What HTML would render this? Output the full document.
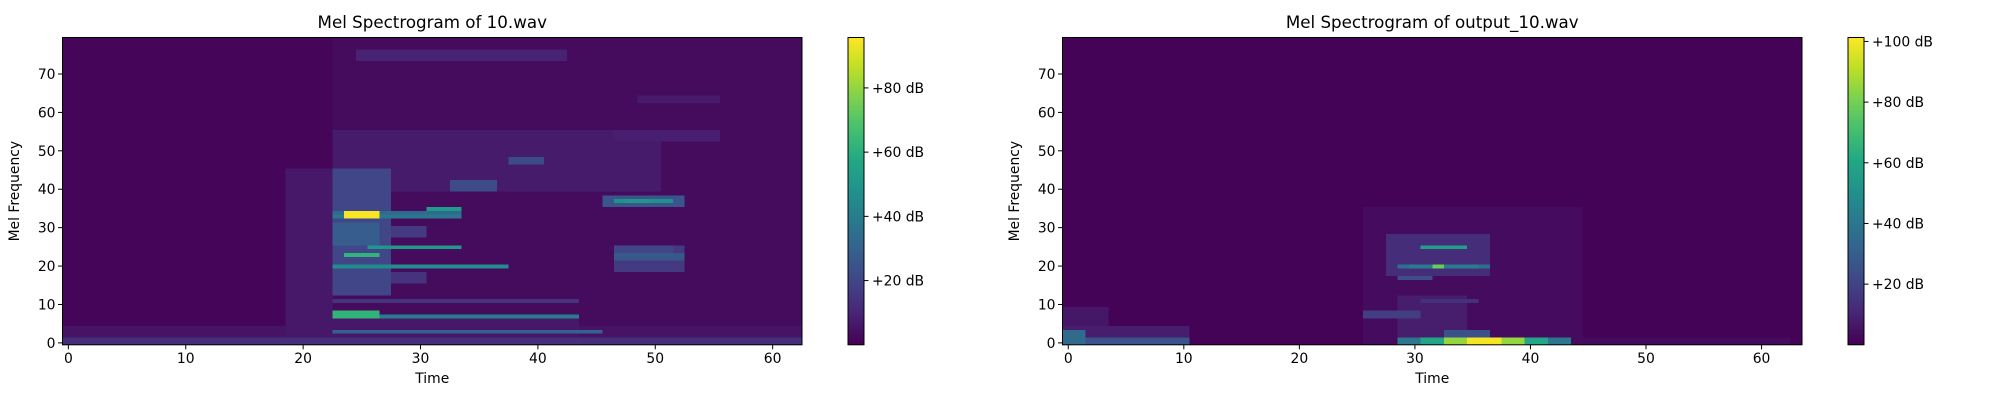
<!DOCTYPE html>
<html><head><meta charset="utf-8">
<style>
html,body{margin:0;padding:0;background:#fff;}
svg{display:block;font-family:"DejaVu Sans","Liberation Sans",sans-serif;}
</style></head>
<body>
<svg id="fig" width="2000" height="400" viewBox="0 0 2000 400" xmlns="http://www.w3.org/2000/svg">
<rect width="2000" height="400" fill="#fff"/>
</svg>
<script>
// ---------- data: left chart (10.wav) ----------
const leftNumFrames = 63;
const leftNumMels = 80;
const leftVmax = 95.7;
const leftBaseDb = 1.5;
const leftTicksX = [0,10,20,30,40,50,60];
const leftTicksY = [0,10,20,30,40,50,60,70];
const leftCbTicks = [20,40,60,80];
const leftPatchT0 = [19,23,0,0,19,23,23,24,24,26,23,31,26,24,23,23,26,23,23,23,46,47,48,47,47,23,25,38,47,49,33,23,25,23,47];
const leftPatchT1 = [62,62,62,62,22,27,33,26,25,26,33,33,33,26,37,26,43,45,43,43,52,51,49,52,52,50,42,40,55,55,36,30,30,26,51];
const leftPatchF0 = [0,40,0,2,0,13,33,33,34,33,33,35,25,23,20,7,7,3,11,0,36,37,37,19,22,40,74,47,53,63,40,28,16,26,24];
const leftPatchF1 = [45,79,1,4,45,45,33,34,34,33,34,35,25,23,20,8,7,3,11,6,38,37,37,25,23,55,76,48,55,64,42,30,18,31,25];
const leftPatchDb = [3,3,13,5,6,20,38,95,92,80,33,52,50,62,46,62,40,30,14,6,25,48,50,16,26,7,9,22,8,7,22,16,14,28,20];

// ---------- data: right chart (output_10.wav) ----------
const rightNumFrames = 64;
const rightNumMels = 80;
const rightVmax = 101.3;
const rightBaseDb = 0.5;
const rightTicksX = [0,10,20,30,40,50,60];
const rightTicksY = [0,10,20,30,40,50,60,70];
const rightCbTicks = [20,40,60,80,100];
const rightPatchT0 = [26,0,0,0,29,31,33,35,33,26,28,30,29,32,31,32,31,29,40,0,44,29];
const rightPatchT1 = [44,10,10,1,43,41,39,37,36,30,36,35,36,32,34,33,35,31,42,3,62,34];
const rightPatchF0 = [0,0,2,0,0,0,0,0,2,7,18,20,20,20,25,25,11,17,0,4,0,2];
const rightPatchF1 = [35,1,4,3,1,1,1,1,3,8,28,20,20,20,25,25,11,17,1,9,1,12];
const rightPatchDb = [3,26,8,35,40,60,85,100,25,18,13,42,36,78,56,52,14,24,32,6,3,8];

// ---------- viridis ----------
const VIR = ["#440154","#482475","#414487","#355f8d","#2a788e","#21918c","#22a884","#44bf70","#7ad151","#bddf26","#fde725"];
function hx(c){return [parseInt(c.substr(1,2),16),parseInt(c.substr(3,2),16),parseInt(c.substr(5,2),16)];}
const VIRRGB = VIR.map(hx);
function viridis(v){
  v = Math.max(0,Math.min(1,v));
  const p = v*10, i = Math.min(9,Math.floor(p)), f = p-i;
  const a = VIRRGB[i], b = VIRRGB[i+1];
  return "rgb("+a.map((x,k)=>Math.round(x+(b[k]-x)*f)).join(",")+")";
}

const NS = "http://www.w3.org/2000/svg";
const fig = document.getElementById("fig");
function mk(tag, attrs, parent){
  const e = document.createElementNS(NS, tag);
  for (const k in attrs) e.setAttribute(k, attrs[k]);
  (parent||fig).appendChild(e);
  return e;
}
function txt(s, attrs, parent){const e = mk("text", attrs, parent); e.textContent = s; return e;}

function drawChart(ox, title, nT, nF, vmax, base, t0s, t1s, f0s, f1s, dbs, ticksX, ticksY, cbTicks, prefix){
  const L = ox+62.5, R = ox+802, T = 37.5, B = 344.8;
  const xs = t => L + (t+0.5)*(R-L)/nT;
  const ys = f => B - (f+0.5)*(B-T)/nF;
  const g = mk("g", {});
  
  
  const grid = [];
  for (let f=0; f<nF; f++){ grid.push(new Array(nT).fill(base)); }
  for (let p=0; p<dbs.length; p++){
    for (let f=f0s[p]; f<=Math.min(nF-1,f1s[p]); f++)
      for (let t=t0s[p]; t<=Math.min(nT-1,t1s[p]); t++)
        grid[f][t] = Math.max(grid[f][t], dbs[p]);
  }
  const hm = mk("g", {"shape-rendering":"crispEdges"}, g);
  
  
  for (let f=0; f<nF; f++){
    for (let t=0; t<nT; t++){
      const x0 = xs(t-0.5), x1 = xs(t+0.5), y0 = ys(f+0.5), y1 = ys(f-0.5);
      const r = mk("rect", {x:x0.toFixed(2), y:y0.toFixed(2), width:(x1-x0+0.4).toFixed(2), height:(y1-y0+0.4).toFixed(2), fill:viridis(grid[f][t]/vmax)}, hm);
      
      
    }
  }
  const frame = mk("rect", {x:L, y:T, width:R-L, height:B-T, fill:"none", stroke:"#000", "stroke-width":1}, g);
  
  
  ticksX.forEach(v=>{
    const x = xs(v);
    const tk = mk("line", {x1:x, x2:x, y1:B, y2:B+4.5, stroke:"#000", "stroke-width":1}, g);
    
    
    const lb = txt(String(v), {x:x, y:B+18, "font-size":13.9, "text-anchor":"middle", fill:"#000"}, g);
    
    
  });
  ticksY.forEach(v=>{
    const y = ys(v);
    const tk = mk("line", {x1:L-4.5, x2:L, y1:y, y2:y, stroke:"#000", "stroke-width":1}, g);
    
    
    const lb = txt(String(v), {x:L-7, y:y+5, "font-size":13.9, "text-anchor":"end", fill:"#000"}, g);
    
    
  });
  const tl = txt(title, {x:(L+R)/2, y:28, "font-size":16.7, "text-anchor":"middle", fill:"#000"}, g);
  
  
  const xl = txt("Time", {x:(L+R)/2, y:383, "font-size":13.9, "text-anchor":"middle", fill:"#000"}, g);
  
  
  const yl = txt("Mel Frequency", {x:0, y:0, "font-size":13.9, "text-anchor":"middle", fill:"#000", transform:"translate("+(ox+19)+","+((T+B)/2)+") rotate(-90)"}, g);
  
  
  const cL = ox+848, cR = ox+864;
  const cbg = mk("g", {}, g);
  
  
  const defs = mk("defs", {}, cbg);
  const lg = mk("linearGradient", {id:prefix+"-grad", x1:0, y1:1, x2:0, y2:0}, defs);
  VIR.forEach((c,i)=>mk("stop", {offset:(i/10), "stop-color":c}, lg));
  const cb = mk("rect", {x:cL, y:T, width:cR-cL, height:B-T, fill:"url(#"+prefix+"-grad)", stroke:"#000", "stroke-width":1}, cbg);
  
  
  cbTicks.forEach(v=>{
    const y = B - v/vmax*(B-T);
    const tk = mk("line", {x1:cR, x2:cR+4.5, y1:y, y2:y, stroke:"#000", "stroke-width":1}, cbg);
    
    
    const lb = txt("+"+v+" dB", {x:cR+8, y:y+5, "font-size":13.9, fill:"#000"}, cbg);
    
    
  });
}

drawChart(0, "Mel Spectrogram of 10.wav", leftNumFrames, leftNumMels, leftVmax, leftBaseDb,
  leftPatchT0, leftPatchT1, leftPatchF0, leftPatchF1, leftPatchDb, leftTicksX, leftTicksY, leftCbTicks, "left");
drawChart(1000, "Mel Spectrogram of output_10.wav", rightNumFrames, rightNumMels, rightVmax, rightBaseDb,
  rightPatchT0, rightPatchT1, rightPatchF0, rightPatchF1, rightPatchDb, rightTicksX, rightTicksY, rightCbTicks, "right");
</script>
</body></html>
